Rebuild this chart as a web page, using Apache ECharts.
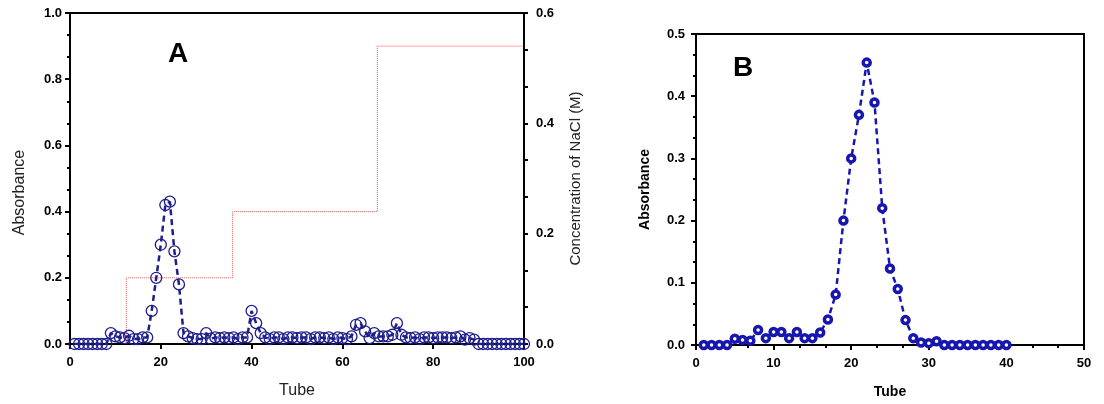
<!DOCTYPE html>
<html>
<head>
<meta charset="utf-8">
<script src="https://cdn.jsdelivr.net/npm/echarts@6/dist/echarts.min.js"></script>
<style>
html,body{margin:0;padding:0;background:#fff;}
#chart{width:1104px;height:404px;}
</style>
</head>
<body>
<div id="chart"></div>
<script>
// ---- Panel A data (tubes 1..100) ----
const absorbanceA = [
  0,0,0,0,0,0,0,0,0.033,0.023,
  0.02,0.018,0.025,0.015,0.015,0.02,0.02,0.10,0.20,0.30,
  0.42,0.43,0.28,0.18,0.033,0.023,0.018,0.015,0.015,0.033,
  0.016,0.02,0.018,0.02,0.018,0.02,0.015,0.02,0.02,0.10,
  0.063,0.033,0.02,0.015,0.02,0.02,0.015,0.02,0.02,0.018,
  0.02,0.02,0.015,0.02,0.02,0.018,0.02,0.015,0.02,0.018,
  0.015,0.023,0.058,0.063,0.038,0.018,0.033,0.023,0.023,0.023,
  0.028,0.063,0.028,0.02,0.018,0.02,0.015,0.02,0.02,0.018,
  0.02,0.02,0.02,0.018,0.02,0.023,0.013,0.018,0.013,0,
  0,0,0,0,0,0,0,0,0,0
];
// NaCl step gradient (tube, concentration M)
const naclTube = [12.4, 12.4, 35.8, 35.8, 67.7, 67.7, 100];
const naclConc = [0, 0.12, 0.12, 0.24, 0.24, 0.54, 0.54];

// ---- Panel B data (tubes 1..40) ----
const absorbanceB = [
  0,0,0,0,0.01,0.008,0.007,0.024,0.011,0.021,
  0.021,0.011,0.021,0.011,0.011,0.02,0.041,0.081,0.20,0.30,
  0.37,0.454,0.39,0.22,0.123,0.09,0.04,0.011,0.004,0.003,
  0.006,0,0,0,0,0,0,0,0,0
];

const seriesA = absorbanceA.map((v, i) => [i + 1, v]);
const seriesB = absorbanceB.map((v, i) => [i + 1, v]);
const seriesNaCl = naclTube.map((t, i) => [t, naclConc[i]]);

const FONT = 'Liberation Sans, Arial, sans-serif';
const tickLabel = {fontFamily: FONT, fontWeight: 'bold', fontSize: 13, color: '#000'};
const axLine = {show: true, lineStyle: {color: '#000', width: 2}};
const tickStyle = {show: true, length: 5, lineStyle: {color: '#000', width: 2}};
const minorStyle = {show: true, splitNumber: 3, length: 3, lineStyle: {color: '#000', width: 2}};
const fmt1 = v => v.toFixed(1);

const chart = echarts.init(document.getElementById('chart'), null, {renderer: 'canvas'});
chart.setOption({
  animation: false,
  backgroundColor: '#fff',
  grid: [
    {left: 70, top: 13, width: 454, height: 333, show: true, borderColor: '#000', borderWidth: 2, backgroundColor: 'transparent'},
    {left: 696, top: 34, width: 388, height: 312, show: true, borderColor: '#000', borderWidth: 2, backgroundColor: 'transparent'}
  ],
  graphic: [
    {type: 'text', left: 168, top: 40, style: {text: 'A', fontFamily: FONT, fontWeight: 'bold', fontSize: 28, fill: '#000'}},
    {type: 'text', left: 733, top: 54, style: {text: 'B', fontFamily: FONT, fontWeight: 'bold', fontSize: 28, fill: '#000'}}
  ],
  xAxis: [
    {type: 'value', gridIndex: 0, min: 0, max: 100, interval: 20,
     name: 'Tube', nameLocation: 'middle', nameGap: 39,
     nameTextStyle: {fontFamily: FONT, fontSize: 16, color: '#222'},
     axisLine: axLine, axisTick: tickStyle, splitLine: {show: false},
     axisLabel: Object.assign({margin: 12}, tickLabel)},
    {type: 'value', gridIndex: 1, min: 0, max: 50, interval: 10,
     name: 'Tube', nameLocation: 'middle', nameGap: 40,
     nameTextStyle: {fontFamily: FONT, fontSize: 14, fontWeight: 'bold', color: '#000'},
     axisLine: axLine, axisTick: tickStyle, minorTick: minorStyle, splitLine: {show: false},
     axisLabel: Object.assign({margin: 12}, tickLabel)}
  ],
  yAxis: [
    {type: 'value', gridIndex: 0, min: 0, max: 1, interval: 0.2, position: 'left',
     name: 'Absorbance', nameLocation: 'middle', nameGap: 42, nameRotate: 90,
     nameTextStyle: {fontFamily: FONT, fontSize: 16, color: '#222', padding: [0, 28, 0, 0]},
     axisLine: axLine, axisTick: tickStyle, minorTick: minorStyle, splitLine: {show: false},
     axisLabel: Object.assign({margin: 8, formatter: fmt1}, tickLabel)},
    {type: 'value', gridIndex: 0, min: 0, max: 0.6, interval: 0.2, position: 'right',
     name: 'Concentration of NaCl (M)', nameLocation: 'middle', nameGap: 44, nameRotate: 90,
     nameTextStyle: {fontFamily: FONT, fontSize: 15, color: '#222'},
     axisLine: axLine, axisTick: {show: true, length: 4, lineStyle: {color: '#000', width: 2}},
     minorTick: {show: true, splitNumber: 3, length: 4, lineStyle: {color: '#000', width: 2}},
     splitLine: {show: false},
     axisLabel: Object.assign({margin: 12, formatter: fmt1}, tickLabel)},
    {type: 'value', gridIndex: 1, min: 0, max: 0.5, interval: 0.1,
     name: 'Absorbance', nameLocation: 'middle', nameGap: 44, nameRotate: 90,
     nameTextStyle: {fontFamily: FONT, fontSize: 14, fontWeight: 'bold', color: '#000'},
     axisLine: axLine, axisTick: tickStyle, minorTick: minorStyle, splitLine: {show: false},
     axisLabel: Object.assign({margin: 11, formatter: fmt1}, tickLabel)}
  ],
  series: [
    {type: 'line', xAxisIndex: 0, yAxisIndex: 1, data: seriesNaCl, symbol: 'none',
     lineStyle: {color: '#f05a5a', width: 1, type: [1, 1]}, z: 1},
    {type: 'line', xAxisIndex: 0, yAxisIndex: 0, data: seriesA,
     symbol: 'circle', symbolSize: 11,
     itemStyle: {color: 'rgba(0,0,0,0)', borderColor: '#1e1e8c', borderWidth: 1.3},
     lineStyle: {color: '#1e1e8c', width: 2.5, type: [6, 4]}, z: 3},
    {type: 'line', xAxisIndex: 1, yAxisIndex: 2, data: seriesB,
     symbol: 'circle', symbolSize: 7,
     itemStyle: {color: '#fff', borderColor: '#1717b0', borderWidth: 3.5},
     lineStyle: {color: '#1717b0', width: 2.5, type: [6, 4]}, z: 3}
  ]
});
</script>
</body>
</html>
